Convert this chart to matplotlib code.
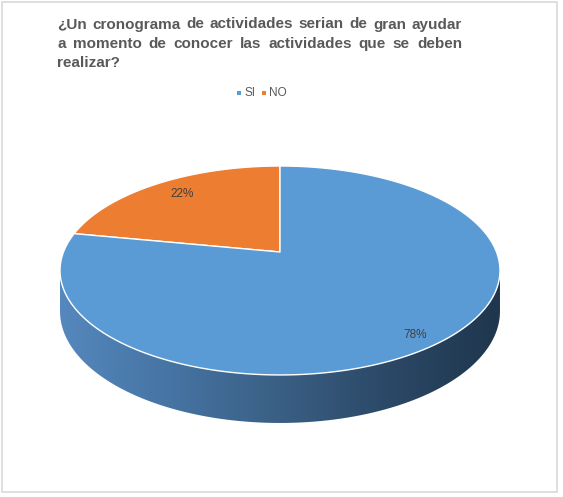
import numpy as np
import matplotlib
matplotlib.use("Agg")
import matplotlib.pyplot as plt
from matplotlib.patches import Polygon, Rectangle
from matplotlib.colors import LinearSegmentedColormap

# ---- data ----
categories = ["SI", "NO"]
values = [78, 22]
labels = ["78%", "22%"]
title_lines = ["¿Un cronograma de actividades serian de gran ayudar",
               "a momento de conocer las actividades que se deben",
               "realizar?"]
colors = ["#5B9BD5", "#ED7D31"]

W, H = 563, 497
fig = plt.figure(figsize=(W / 100, H / 100), dpi=100)
ax = fig.add_axes([0, 0, 1, 1])
ax.set_xlim(0, W)
ax.set_ylim(H, 0)
ax.axis("off")

# chart border
ax.add_patch(Rectangle((1.5, 1.5), 555, 490, fill=False, ec="#d9d9d9", lw=1.2))

# perspective pie geometry
X0, Y0 = 280.0, 252.0
A, B, K, DZ = 216.5, 101.2, 0.177, 39.5


def proj(u, v, z=0.0):
    d = 1 + K * v
    return X0 + A * u / d, Y0 + (-B * v + z) / d


total = float(sum(values))
order = [1, 0]
start = 90.0
spans = {}
for i in order:
    sweep = values[i] / total * 360.0
    spans[i] = (start, start + sweep)
    start += sweep

# side wall (visible front part) with gradient clipped to its outline
t1 = np.pi + np.arcsin(K)
t2 = 2 * np.pi - np.arcsin(K)
ts = np.linspace(t1, t2, 300)
top = [proj(np.cos(t), np.sin(t)) for t in ts]
bot = [proj(np.cos(t), np.sin(t), DZ) for t in ts[::-1]]
side = Polygon(top + bot, closed=True, fc="none", ec="none")
ax.add_patch(side)
cmap = LinearSegmentedColormap.from_list(
    "side", ["#5588be", "#4674a3", "#3a5f84", "#2b4866", "#1f364d"])
grad = np.linspace(0, 1, 512).reshape(1, -1)
xs = [p[0] for p in top]
im = ax.imshow(grad, cmap=cmap, aspect="auto",
               extent=[min(xs) - 1, max(xs) + 1, 430, 255], zorder=1)
im.set_clip_path(side)

# top faces
for i in order:
    a0, a1 = spans[i]
    tt = np.radians(np.linspace(a0, a1, 300))
    pts = [proj(0, 0)] + [proj(np.cos(t), np.sin(t)) for t in tt]
    ax.add_patch(Polygon(pts, closed=True, fc=colors[i], ec="white", lw=1.0,
                         joinstyle="round", zorder=2))

# data labels
lab_r = {0: 0.9, 1: 0.77}
lab_off = {0: (-6, 3), 1: (-2, -4)}
for i in order:
    a0, a1 = spans[i]
    m = np.radians((a0 + a1) / 2)
    x, y = proj(lab_r[i] * np.cos(m), lab_r[i] * np.sin(m))
    ax.text(x + lab_off[i][0], y + lab_off[i][1], labels[i], ha="center",
            va="center", fontsize=8.5, color="#404040",
            family="Liberation Sans", zorder=3)

# title (justified lines)
fig.canvas.draw()
rend = fig.canvas.get_renderer()
tx0, tx1 = 57, 462
ys = [28.5, 48, 67]
tprops = dict(fontsize=11, fontweight="bold", color="#595959",
              family="Liberation Sans", va="baseline", ha="left")
for li, (line, y) in enumerate(zip(title_lines, ys)):
    if li < len(title_lines) - 1:
        words = line.split(" ")
        widths = []
        for w in words:
            t = ax.text(0, 0, w, **tprops)
            widths.append(t.get_window_extent(rend).width)
            t.remove()
        gap = (tx1 - tx0 - sum(widths)) / (len(words) - 1)
        x = tx0
        for w, wd in zip(words, widths):
            ax.text(x, y, w, **tprops)
            x += wd + gap
    else:
        ax.text(tx0, y, line, **tprops)

# legend
ly = 93
lx = [239, 264]
for i, x in zip([0, 1], lx):
    ax.add_patch(Rectangle((x - 2.2, ly - 2.2), 4.4, 4.4, fc=colors[i], ec="none"))
    ax.text(x + 5.5, ly, categories[i], fontsize=8.5, color="#595959",
            family="Liberation Sans", va="center", ha="left")

fig.savefig("out.png", dpi=100, facecolor="white")
